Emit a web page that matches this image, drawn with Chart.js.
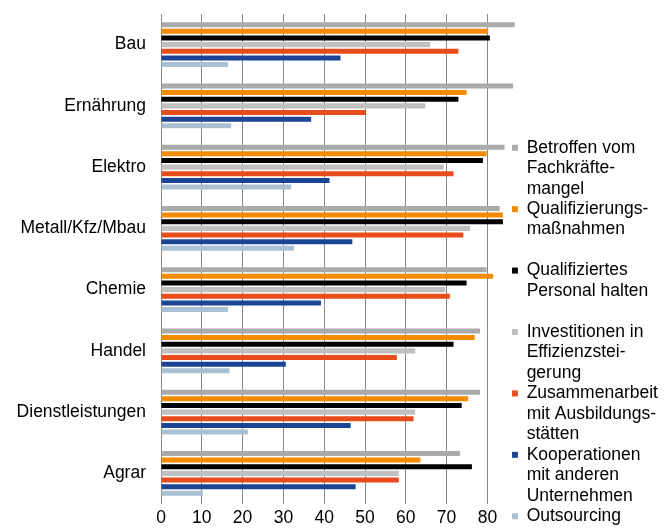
<!DOCTYPE html>
<html lang="de">
<head>
    <meta charset="UTF-8">
    <title>Massnahmen gegen Fachkraeftemangel</title>
    <script src="https://cdn.jsdelivr.net/npm/chart.js"></script>
    <style>
        html, body { margin: 0; padding: 0; background: #fff; }
        .chart-box { width: 672px; height: 531px; position: relative; }
    </style>
</head>
<body>
    <div class="chart-box">
        <canvas id="chart"></canvas>
    </div>

    <script>
        const branchen = ['Bau', 'Ernährung', 'Elektro', 'Metall/Kfz/Mbau', 'Chemie', 'Handel', 'Dienstleistungen', 'Agrar'];

        const betroffen = [86.7, 86.3, 84.2, 83.0, 79.8, 78.2, 78.2, 73.3];
        const qualiMassnahmen = [80.2, 74.9, 79.8, 83.8, 81.4, 76.9, 75.3, 63.6];
        const personalHalten = [80.6, 72.9, 78.9, 83.8, 74.9, 71.7, 73.7, 76.2];
        const effizienz = [66.0, 64.8, 69.3, 75.7, 69.7, 62.3, 62.3, 58.3];
        const ausbildung = [72.9, 50.2, 71.7, 74.1, 70.8, 57.8, 61.9, 58.3];
        const kooperationen = [44.0, 36.8, 41.3, 46.9, 39.2, 30.6, 46.5, 47.7];
        const outsourcing = [16.4, 17.2, 31.9, 32.6, 16.4, 16.8, 21.3, 10.3];

        const xTicks = [0, 10, 20, 30, 40, 50, 60, 70, 80];

        // legend text, one array per series (3 line slots like the original)
        const legendLines = [
            ['Betroffen vom', 'Fachkräfte-', 'mangel'],
            ['Qualifizierungs-', 'maßnahmen', ''],
            ['Qualifiziertes', 'Personal halten', ''],
            ['Investitionen in', 'Effizienzstei-', 'gerung'],
            ['Zusammenarbeit', 'mit Ausbildungs-', 'stätten'],
            ['Kooperationen', 'mit anderen', 'Unternehmen'],
            ['Outsourcing']
        ];

        const series = [betroffen, qualiMassnahmen, personalHalten, effizienz, ausbildung, kooperationen, outsourcing];
        const colors = ['#aaaaaa', '#f58a00', '#000000', '#c0c0c0', '#e84c1a', '#1c4494', '#a9c0d2'];

        const fontFamily = '"Liberation Sans", Arial, sans-serif';

        new Chart(document.querySelector('#chart'), {
            type: 'bar',
            data: {
                labels: branchen,
                datasets: series.map((data, i) => ({
                    label: legendLines[i].join(' '),
                    data: data,
                    backgroundColor: colors[i],
                    borderWidth: 0,
                    categoryPercentage: 0.76,
                    barPercentage: 0.76,
                    clip: false
                }))
            },
            options: {
                indexAxis: 'y',
                responsive: true,
                maintainAspectRatio: false,
                animation: false,
                layout: {
                    padding: { top: 14, left: 17, right: 6, bottom: 3 }
                },
                scales: {
                    x: {
                        min: 0,
                        max: 86,
                        afterBuildTicks: (scale) => {
                            scale.ticks = xTicks.map(v => ({ value: v }));
                        },
                        afterFit: (scale) => {
                            scale.height = 24;
                            scale.paddingLeft = 0;
                            scale.paddingRight = 0;
                        },
                        grid: { color: '#888888', lineWidth: 1, drawTicks: false },
                        border: { display: false },
                        ticks: {
                            color: '#000',
                            padding: 4,
                            font: { family: fontFamily, size: 17.5 }
                        }
                    },
                    y: {
                        grid: { display: false, drawTicks: false },
                        border: { display: false },
                        afterFit: (scale) => {
                            scale.width = 144;
                            scale.paddingTop = 0;
                            scale.paddingBottom = 0;
                        },
                        ticks: {
                            color: '#000',
                            padding: 15,
                            font: { family: fontFamily, size: 17.5 }
                        }
                    }
                },
                plugins: {
                    tooltip: { enabled: false },
                    legend: {
                        position: 'right',
                        align: 'end',
                        labels: {
                            color: '#000',
                            boxWidth: 6,
                            boxHeight: 6,
                            padding: 0,
                            font: { family: fontFamily, size: 17.5, lineHeight: 1.17 },
                            generateLabels: (chart) => chart.data.datasets.map((ds, i) => ({
                                text: legendLines[i],
                                fillStyle: colors[i],
                                strokeStyle: colors[i],
                                lineWidth: 0,
                                hidden: false,
                                datasetIndex: i
                            }))
                        }
                    }
                }
            }
        });
    </script>
</body>
</html>
